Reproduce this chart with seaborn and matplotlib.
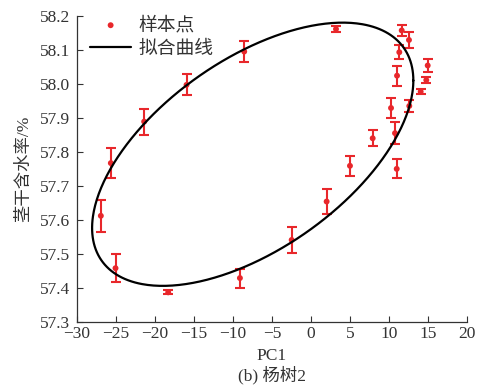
import numpy as np
import pandas as pd
import matplotlib
matplotlib.use("Agg")
import matplotlib.pyplot as plt
import seaborn as sns

# sample points (PC1, stem water content %), with error half-width
pc1 = [-25.64, -26.92, -25.04, -21.37, -15.94, -8.55, -18.29, -9.10, -2.47,
       2.01, 5.00, 7.91, 10.99, 3.21, 11.63, 12.56, 11.32, 14.96, 11.03,
       14.78, 14.06, 10.26, 12.60, 10.77]
water = [57.767, 57.612, 57.458, 57.889, 57.997, 58.095, 57.387, 57.429, 57.541,
         57.654, 57.759, 57.840, 57.750, 58.161, 58.157, 58.129, 58.093, 58.054,
         58.024, 58.011, 57.977, 57.929, 57.935, 57.855]
err = [0.044, 0.047, 0.041, 0.038, 0.031, 0.030, 0.006, 0.028, 0.037,
       0.036, 0.030, 0.024, 0.028, 0.008, 0.015, 0.024, 0.021, 0.020,
       0.029, 0.008, 0.008, 0.030, 0.018, 0.032]

# fitted ellipse parameters (center, semi-ranges, phase lag)
ell_cx, ell_cy = -7.46, 57.793
ell_ax, ell_ay = 20.58, 0.387
ell_phase = 0.976

xticks = [-30, -25, -20, -15, -10, -5, 0, 5, 10, 15, 20]
yticks = [57.3, 57.4, 57.5, 57.6, 57.7, 57.8, 57.9, 58.0, 58.1, 58.2]

sns.set_style("ticks")
plt.rcParams['font.family'] = ['Liberation Serif', 'Noto Sans CJK SC']
plt.rcParams['axes.unicode_minus'] = True

fig = plt.figure(figsize=(4.8, 3.86), dpi=100)
ax = fig.add_axes([0.160, 0.166, 0.813, 0.793])

red = '#e8272b'
t = np.linspace(0, 2 * np.pi, 400)
curve = pd.DataFrame({'x': ell_cx + ell_ax * np.cos(t),
                      'y': ell_cy + ell_ay * np.cos(t - ell_phase)})

df = pd.DataFrame({'PC1': pc1, 'w': water, 'e': err})
ax.errorbar(df['PC1'], df['w'], yerr=df['e'], fmt='none', ecolor=red,
            elinewidth=1.5, capsize=3.5, capthick=1.5, zorder=2)
sns.scatterplot(data=df, x='PC1', y='w', color=red, s=18, edgecolor='none',
                ax=ax, zorder=3, label='样本点')
sns.lineplot(data=curve, x='x', y='y', sort=False, estimator=None, color='black',
             lw=1.6, ax=ax, zorder=4, label='拟合曲线')

ax.set_xlim(-30, 20)
ax.set_ylim(57.3, 58.2)
ax.set_xticks(xticks)
ax.set_yticks(yticks)
ax.set_xticklabels([f"{v}".replace('-', '\u2212') for v in xticks], fontsize=12.5)
ax.set_yticklabels([f"{v:.1f}" for v in yticks], fontsize=12.5)
ax.tick_params(direction='in', length=4, width=0.8, colors='#333333')
ax.tick_params(axis='x', pad=3)
ax.tick_params(axis='y', pad=5)
for s in ['top', 'right']:
    ax.spines[s].set_visible(False)
for s in ['left', 'bottom']:
    ax.spines[s].set_color('#333333')
    ax.spines[s].set_linewidth(0.9)

ax.set_xlabel('PC1', fontsize=12.5, labelpad=4, color='#333333')
ax.set_ylabel('茎干含水率/%', fontsize=12.5, labelpad=5, color='#333333')
fig.text(0.5 * (0.160 + 0.973), 0.003, '(b) 杨树2', ha='center', va='bottom',
         fontsize=12.5, color='#333333')

leg = ax.legend(loc='upper left', bbox_to_anchor=(0.005, 1.035), frameon=False,
                fontsize=13.5, handlelength=2.2, handletextpad=0.4,
                labelspacing=0.35, borderaxespad=0.2)
for txt in leg.get_texts():
    txt.set_color('#333333')

fig.savefig('out.png', dpi=100, facecolor='white')
